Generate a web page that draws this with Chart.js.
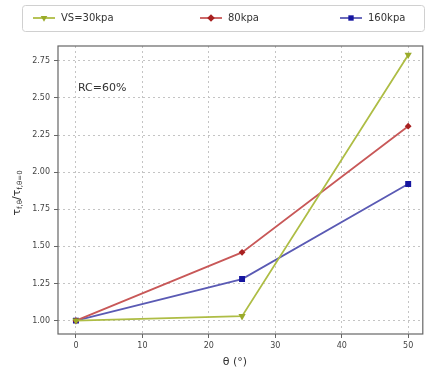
<!DOCTYPE html>
<html>
<head>
<meta charset="utf-8">
<script src="https://cdn.jsdelivr.net/npm/chart.js@4"></script>
<style>
  html, body { margin: 0; padding: 0; background: #fff; }
  #wrap { width: 427px; height: 372px; }
</style>
</head>
<body>
<div id="wrap"><canvas id="c" width="427" height="372"></canvas></div>
<script>
// ── data ──
const angles = [0, 25, 50];
const vs30 = [1.00, 1.03, 2.79];
const vs80 = [1.00, 1.46, 2.31];
const vs160 = [1.00, 1.28, 1.92];
const seriesNames = ['VS=30kpa', '80kpa', '160kpa'];
const yTicks = [1.00, 1.25, 1.50, 1.75, 2.00, 2.25, 2.50, 2.75];
const xTicks = [0, 10, 20, 30, 40, 50];

const FONT = 'DejaVu Sans, sans-serif';
const COLORS = {
  green: { line: '#aebd45', mark: '#9aab2a' },
  red:   { line: '#c85858', mark: '#a82020' },
  blue:  { line: '#5a5ab4', mark: '#1616a0' }
};

const toPts = ys => ys.map((y, i) => ({ x: angles[i], y }));

// legend box, axis titles, RC label and the frame around the plot
const decor = {
  id: 'decor',
  afterDraw(chart) {
    const { ctx, chartArea: a } = chart;
    ctx.save();
    // frame
    ctx.strokeStyle = '#666';
    ctx.lineWidth = 1.2;
    ctx.strokeRect(a.left, a.top, a.right - a.left, a.bottom - a.top);

    // legend
    ctx.strokeStyle = '#d0d0d0';
    ctx.lineWidth = 1;
    ctx.beginPath();
    ctx.roundRect(22.5, 5.5, 402, 26, 3);
    ctx.stroke();
    const items = [
      { x: 33, c: COLORS.green, style: 'triangle', rot: 180 },
      { x: 200, c: COLORS.red, style: 'rectRot', rot: 0 },
      { x: 340, c: COLORS.blue, style: 'rect', rot: 0 }
    ];
    ctx.font = '10px ' + FONT;
    ctx.textBaseline = 'middle';
    items.forEach((it, i) => {
      const y = 18;
      ctx.strokeStyle = it.c.line;
      ctx.lineWidth = 1.8;
      ctx.beginPath(); ctx.moveTo(it.x, y); ctx.lineTo(it.x + 22, y); ctx.stroke();
      ctx.fillStyle = it.c.mark;
      Chart.helpers.drawPoint(ctx, { pointStyle: it.style, radius: 3.8, rotation: it.rot, borderWidth: 0 }, it.x + 11, y);
      ctx.fillStyle = '#333';
      ctx.textAlign = 'left';
      ctx.fillText(seriesNames[i], it.x + 28, y);
    });

    // RC label
    ctx.fillStyle = '#333';
    ctx.font = '11px ' + FONT;
    ctx.textAlign = 'left';
    ctx.fillText('RC=60%', 78, 88);

    // x title
    ctx.font = '11px ' + FONT;
    ctx.textAlign = 'center';
    ctx.fillText('θ (°)', 235, 362);

    // y title with subscripts
    ctx.translate(17, 193);
    ctx.rotate(-Math.PI / 2);
    const parts = [['τ', 11, 0], ['f,θ', 7, 3], ['/τ', 11, 0], ['f,θ=0', 7, 3]];
    let w = 0;
    parts.forEach(p => { ctx.font = p[1] + 'px ' + FONT; w += ctx.measureText(p[0]).width; });
    let x = -w / 2;
    ctx.textAlign = 'left';
    parts.forEach(p => {
      ctx.font = p[1] + 'px ' + FONT;
      ctx.fillText(p[0], x, p[2]);
      x += ctx.measureText(p[0]).width;
    });
    ctx.restore();
  }
};

const ds = (label, data, c, style, rot, r) => ({
  label, data: toPts(data),
  borderColor: c.line, backgroundColor: c.mark,
  pointBackgroundColor: c.mark, pointBorderColor: c.mark,
  pointStyle: style, pointRotation: rot, pointRadius: r, pointBorderWidth: 0,
  borderWidth: 1.8, tension: 0, fill: false
});

new Chart(document.getElementById('c'), {
  type: 'line',
  data: {
    datasets: [
      ds(seriesNames[0], vs30, COLORS.green, 'triangle', 180, 4.2),
      ds(seriesNames[1], vs80, COLORS.red, 'rectRot', 0, 3.4),
      ds(seriesNames[2], vs160, COLORS.blue, 'rect', 0, 4.2)
    ]
  },
  options: {
    responsive: false,
    animation: false,
    layout: { padding: { top: 46, right: 2, left: 0, bottom: 0 } },
    plugins: { legend: { display: false }, tooltip: { enabled: false } },
    scales: {
      x: {
        type: 'linear', min: -2.7, max: 52.2,
        afterFit: s => { s.height = 38; },
        afterBuildTicks: s => { s.ticks = xTicks.map(v => ({ value: v })); },
        grid: { color: '#c4c4c4', lineWidth: 1, tickLength: 4, tickColor: '#666', tickBorderDash: [] },
        border: { display: false, dash: [2, 3] },
        ticks: { color: '#444', font: { family: FONT, size: 8 }, padding: 3 }
      },
      y: {
        type: 'linear', min: 0.91, max: 2.85,
        afterFit: s => { s.width = 58; },
        afterBuildTicks: s => { s.ticks = yTicks.map(v => ({ value: v })); },
        grid: { color: '#c4c4c4', lineWidth: 1, tickLength: 4, tickColor: '#666', tickBorderDash: [] },
        border: { display: false, dash: [2, 3] },
        ticks: { color: '#444', font: { family: FONT, size: 8 }, padding: 4, callback: v => v.toFixed(2) }
      }
    }
  },
  plugins: [decor]
});
</script>
</body>
</html>
